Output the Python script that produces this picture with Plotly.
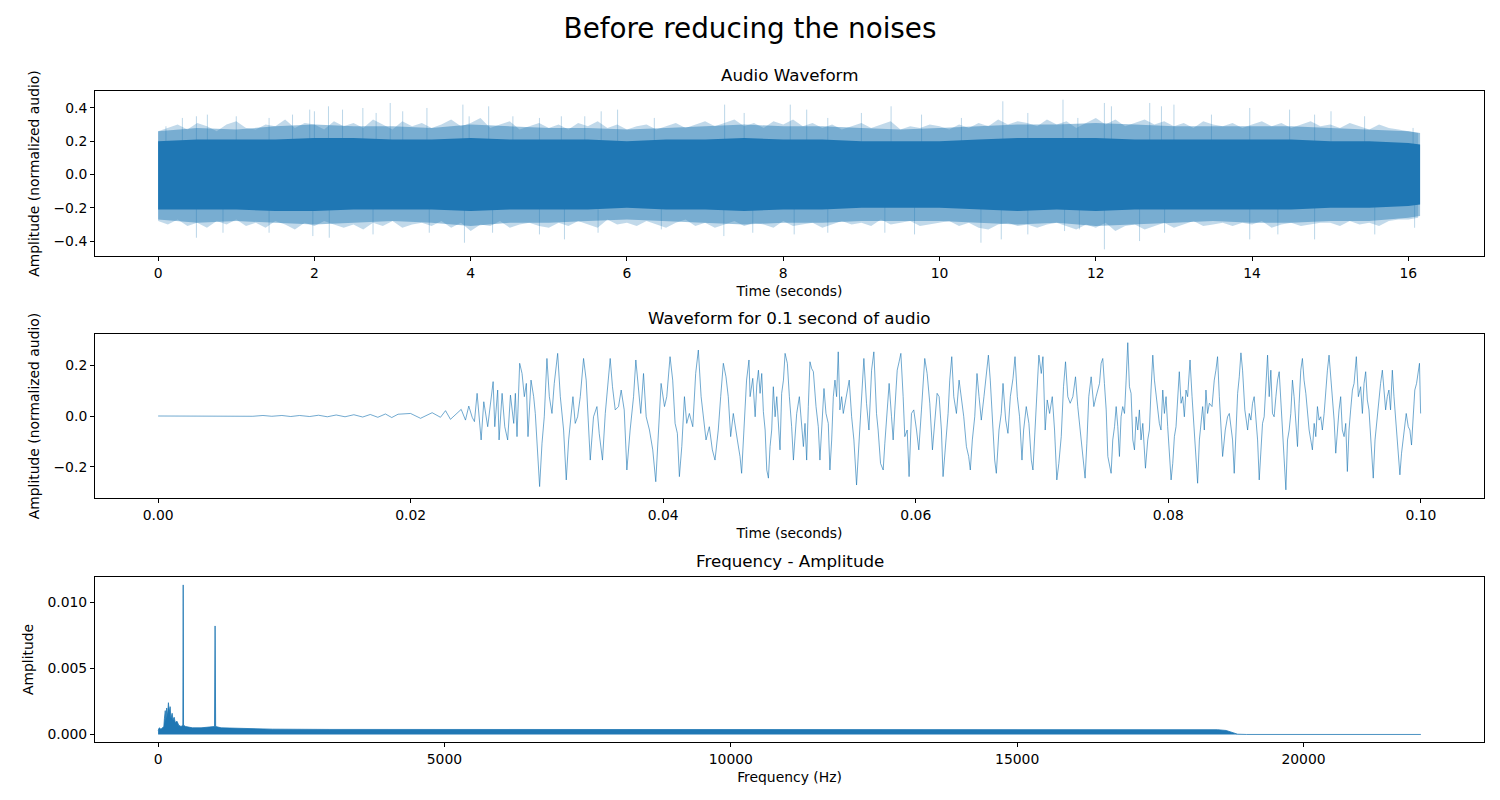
import plotly.graph_objects as go

# ---------------------------------------------------------------- data
# Audio waveform (whole file): envelope every 0.5 s
env_t = [0, 0.5, 1, 1.5, 2, 2.5, 3, 3.5, 4, 4.5, 5, 5.5, 6, 6.5, 7, 7.5, 8, 8.5,
         9, 9.5, 10, 10.5, 11, 11.5, 12, 12.5, 13, 13.5, 14, 14.5, 15, 15.5, 16, 16.15]
halo_top = [0.26, 0.28, 0.27, 0.29, 0.30, 0.29, 0.29, 0.28, 0.30, 0.29,
            0.28, 0.28, 0.27, 0.28, 0.29, 0.30, 0.29, 0.29, 0.28, 0.27,
            0.28, 0.29, 0.30, 0.30, 0.31, 0.30, 0.29, 0.29, 0.29, 0.29,
            0.28, 0.27, 0.26, 0.25]
halo_bot = [-0.27, -0.29, -0.28, -0.29, -0.30, -0.29, -0.28, -0.29, -0.31, -0.29,
            -0.29, -0.28, -0.27, -0.28, -0.29, -0.30, -0.29, -0.29, -0.28, -0.28,
            -0.28, -0.29, -0.30, -0.29, -0.31, -0.30, -0.29, -0.28, -0.29, -0.29,
            -0.28, -0.28, -0.26, -0.25]
core_top = [0.20, 0.21, 0.21, 0.21, 0.22, 0.22, 0.21, 0.21, 0.22, 0.21,
            0.21, 0.21, 0.20, 0.21, 0.21, 0.22, 0.21, 0.21, 0.20, 0.20,
            0.20, 0.21, 0.22, 0.22, 0.22, 0.21, 0.21, 0.21, 0.21, 0.21,
            0.20, 0.20, 0.19, 0.18]
core_bot = [-0.21, -0.21, -0.21, -0.22, -0.22, -0.21, -0.21, -0.21, -0.22, -0.21,
            -0.21, -0.21, -0.20, -0.21, -0.21, -0.22, -0.21, -0.21, -0.20, -0.20,
            -0.20, -0.21, -0.22, -0.21, -0.22, -0.21, -0.21, -0.21, -0.21, -0.21,
            -0.20, -0.20, -0.19, -0.18]

# ragged outer edge of the band, every 0.125 s
fringe_step = 0.125
fringe_top = [0.26, 0.28, 0.30, 0.27, 0.31, 0.29, 0.26, 0.30, 0.32, 0.28,
              0.27, 0.30, 0.29, 0.33, 0.28, 0.31, 0.30, 0.27, 0.32, 0.29,
              0.31, 0.28, 0.33, 0.30, 0.27, 0.32, 0.29, 0.31, 0.28, 0.30,
              0.33, 0.29, 0.31, 0.34, 0.28, 0.30, 0.32, 0.27, 0.29, 0.31,
              0.28, 0.30, 0.27, 0.31, 0.29, 0.32, 0.28, 0.30, 0.27, 0.29,
              0.30, 0.27, 0.29, 0.31, 0.28, 0.30, 0.32, 0.29, 0.31, 0.33,
              0.29, 0.31, 0.28, 0.32, 0.30, 0.33, 0.29, 0.31, 0.28, 0.30,
              0.27, 0.29, 0.31, 0.28, 0.30, 0.32, 0.27, 0.29, 0.28, 0.30,
              0.29, 0.27, 0.30, 0.28, 0.31, 0.29, 0.33, 0.30, 0.32, 0.31,
              0.29, 0.33, 0.30, 0.32, 0.28, 0.31, 0.34, 0.30, 0.33, 0.29,
              0.31, 0.33, 0.30, 0.32, 0.29, 0.31, 0.28, 0.32, 0.30, 0.29,
              0.31, 0.28, 0.30, 0.32, 0.29, 0.31, 0.28, 0.30, 0.32, 0.29,
              0.30, 0.28, 0.31, 0.29, 0.27, 0.30, 0.28, 0.27, 0.26, 0.25]
fringe_bot = [-0.28, -0.30, -0.27, -0.31, -0.29, -0.32, -0.28, -0.30, -0.27, -0.31,
              -0.29, -0.32, -0.28, -0.30, -0.33, -0.29, -0.31, -0.28, -0.30, -0.32,
              -0.30, -0.33, -0.29, -0.31, -0.28, -0.32, -0.30, -0.29, -0.31, -0.28,
              -0.32, -0.29, -0.34, -0.30, -0.31, -0.28, -0.32, -0.30, -0.29, -0.31,
              -0.32, -0.29, -0.31, -0.28, -0.30, -0.32, -0.27, -0.30, -0.29, -0.31,
              -0.28, -0.30, -0.32, -0.29, -0.27, -0.31, -0.29, -0.32, -0.30, -0.28,
              -0.31, -0.29, -0.30, -0.32, -0.28, -0.31, -0.30, -0.29, -0.32, -0.30,
              -0.28, -0.30, -0.29, -0.31, -0.27, -0.30, -0.29, -0.28, -0.31, -0.30,
              -0.29, -0.28, -0.31, -0.29, -0.32, -0.33, -0.30, -0.29, -0.31, -0.30,
              -0.32, -0.30, -0.29, -0.31, -0.33, -0.30, -0.32, -0.29, -0.34, -0.31,
              -0.30, -0.33, -0.31, -0.29, -0.32, -0.30, -0.28, -0.31, -0.30, -0.29,
              -0.31, -0.29, -0.30, -0.28, -0.32, -0.30, -0.29, -0.31, -0.30, -0.29,
              -0.29, -0.31, -0.28, -0.30, -0.29, -0.31, -0.28, -0.27, -0.27, -0.26]

# single peaks sticking out of the band
peak_up_t = [0.1, 0.31, 0.49, 0.63, 1.0, 1.42, 1.72, 1.94, 2.0, 2.18,
             2.36, 2.62, 2.79, 2.97, 3.13, 3.44, 3.9, 3.98, 4.23, 4.54,
             4.88, 5.16, 5.46, 5.67, 5.88, 6.35, 7.25, 7.5, 8.09, 8.3,
             8.57, 9.0, 9.38, 9.77, 10.28, 10.81, 11.13, 11.58, 11.77, 12.11,
             12.2, 12.69, 12.84, 13.0, 13.48, 13.97, 14.48, 14.8, 15.01, 15.44,
             16.06]
peak_up_v = [0.29, 0.34, 0.35, 0.36, 0.35, 0.34, 0.36, 0.39, 0.38, 0.41,
             0.39, 0.40, 0.37, 0.43, 0.38, 0.40, 0.42, 0.35, 0.41, 0.35,
             0.34, 0.35, 0.35, 0.38, 0.39, 0.34, 0.42, 0.37, 0.42, 0.39,
             0.34, 0.37, 0.41, 0.36, 0.34, 0.44, 0.37, 0.45, 0.34, 0.43,
             0.41, 0.43, 0.41, 0.42, 0.36, 0.40, 0.39, 0.36, 0.38, 0.35,
             0.28]
peak_dn_t = [0.49, 0.83, 1.42, 1.98, 2.19, 2.75, 3.47, 3.92, 4.28, 4.88,
             5.2, 5.63, 6.44, 7.24, 7.61, 8.14, 8.57, 9.3, 9.68, 10.53,
             10.79, 11.13, 11.6, 11.79, 12.11, 12.56, 12.88, 13.97, 14.33, 14.8,
             15.57, 16.08]
peak_dn_v = [-0.38, -0.35, -0.35, -0.37, -0.38, -0.36, -0.35, -0.41, -0.35, -0.36,
             -0.39, -0.35, -0.33, -0.37, -0.35, -0.36, -0.35, -0.35, -0.36, -0.41,
             -0.39, -0.36, -0.34, -0.33, -0.45, -0.40, -0.35, -0.39, -0.36, -0.39,
             -0.36, -0.32]

# first 0.1 s of audio (time in ms)
clip_ms_a = [0.0, 6.0, 6.8, 7.5, 8.3, 9.0, 9.8, 10.5, 11.2, 12.0,
             12.7, 13.4, 14.1, 14.8, 15.5, 16.2, 16.8, 17.4, 18.0, 18.5,
             19.0, 19.99, 20.78, 21.70, 22.36, 22.76, 23.15, 23.68, 24.00, 24.34,
             24.60, 24.87, 25.05, 25.26, 25.58, 25.79, 26.10, 26.53, 26.66, 26.89,
             27.00, 27.24, 27.45, 27.68, 27.90, 28.16, 28.29, 28.42, 28.63, 28.82,
             29.00, 29.16, 29.29, 29.53, 29.74, 29.87, 30.06, 30.21, 30.40, 30.58,
             30.79, 30.98, 31.19, 31.37, 31.64, 31.85, 32.11, 32.32, 32.51, 32.69,
             32.85, 33.03, 33.22, 33.43, 33.69, 33.90, 34.09, 34.22, 34.48, 34.75,
             34.93, 35.19, 35.41, 35.59, 35.80, 35.98, 36.20, 36.46, 36.67, 36.91,
             37.12, 37.38, 37.65, 37.83, 38.07, 38.22, 38.44, 38.65, 38.91, 39.17,
             39.41, 39.62, 39.83, 40.10, 40.28, 40.54, 40.75, 40.94, 41.12, 41.28,
             41.47, 41.68, 41.86, 42.07, 42.34, 42.57, 42.78, 43.00, 43.18, 43.39,
             43.65, 43.89, 44.10, 44.36, 44.55, 44.76, 44.97, 45.15, 45.34, 45.55,
             45.87, 46.08, 46.21, 46.39, 46.60, 46.79]
clip_amp_a = [0.000, 0.000, 0.001, -0.001, 0.002, -0.001, 0.002, -0.002, 0.002, -0.002,
              0.003, -0.003, 0.004, -0.003, 0.005, -0.004, 0.006, -0.005, 0.008, -0.006,
              0.007, 0.010, -0.009, 0.013, -0.005, 0.021, -0.013, 0.013, 0.026, -0.016,
              0.039, -0.005, -0.022, 0.089, -0.094, 0.056, -0.042, 0.135, -0.042, 0.102,
              -0.094, 0.089, -0.042, -0.094, 0.082, -0.029, 0.089, -0.081, 0.207, 0.167,
              0.076, 0.128, -0.081, 0.141, 0.076, 0.010, -0.159, -0.277, -0.107, -0.003,
              0.226, 0.076, 0.010, 0.128, 0.246, 0.076, -0.055, -0.251, -0.094, 0.010,
              0.076, -0.029, -0.003, 0.076, 0.226, 0.141, -0.055, -0.173, -0.003, 0.037,
              -0.068, -0.173, 0.010, 0.115, 0.226, 0.115, 0.024, 0.037, 0.102, 0.024,
              -0.212, -0.055, 0.076, 0.220, 0.076, 0.010, 0.167, -0.003, -0.055, -0.133,
              -0.258, -0.055, 0.128, 0.037, 0.076, 0.233, 0.141, -0.029, -0.068, -0.238,
              -0.120, 0.076, -0.029, 0.010, -0.042, 0.167, 0.259, 0.076, -0.016, -0.094,
              -0.042, -0.133, -0.173, -0.055, 0.076, 0.207, 0.154, 0.076, -0.081, 0.010,
              -0.094, -0.159, -0.225, -0.055, 0.141, 0.220]
clip_ms_b = [46.88, 47.09, 47.28, 47.41, 47.54, 47.67, 47.80, 47.93, 48.07, 48.20,
             48.33, 48.46, 48.59, 48.72, 48.86, 48.99, 49.12, 49.25, 49.38, 49.52,
             49.65, 49.83, 49.99, 50.17, 50.31, 50.44, 50.57, 50.78, 50.96, 51.10,
             51.23, 51.36, 51.49, 51.62, 51.75, 51.89, 52.10, 52.28, 52.41, 52.60,
             52.73, 52.89, 53.07, 53.20, 53.34, 53.47, 53.60, 53.73, 53.86, 53.99,
             54.13, 54.26, 54.52, 54.73, 54.92, 55.10, 55.31, 55.52, 55.71, 55.89,
             56.10, 56.29, 56.50, 56.68, 56.89, 57.02, 57.21, 57.42, 57.55, 57.74,
             57.89, 58.08, 58.21, 58.34, 58.53, 58.68, 58.82, 59.00, 59.13, 59.32,
             59.47, 59.66, 59.84, 60.06, 60.24, 60.45, 60.58, 60.71, 60.90, 61.11,
             61.32, 61.50, 61.69, 61.85, 62.03, 62.16, 62.37, 62.56, 62.69, 62.85,
             63.01, 63.22, 63.43, 63.61, 63.80, 64.01, 64.19, 64.32, 64.48, 64.67,
             64.85, 65.01, 65.19, 65.40, 65.59, 65.75, 65.90, 66.06, 66.25, 66.38,
             66.59, 66.77, 66.91, 67.12, 67.30, 67.49, 67.70, 67.86, 68.04, 68.22,
             68.41, 68.54, 68.75, 68.96, 69.15, 69.28, 69.41, 69.59, 69.75, 69.94,
             70.07, 70.25, 70.41, 70.60, 70.81, 70.99, 71.17, 71.33, 71.52, 71.70,
             71.86, 72.04, 72.23, 72.44, 72.65, 72.83, 73.05, 73.23, 73.41, 73.55,
             73.70, 73.89, 74.10, 74.28, 74.49]
clip_amp_b = [0.076, 0.148, -0.003, 0.122, 0.180, 0.089, 0.167, 0.017, -0.055, -0.212,
              -0.244, -0.120, -0.055, 0.115, -0.003, 0.076, -0.042, -0.133, 0.089, 0.141,
              0.246, 0.207, 0.076, -0.042, -0.173, -0.055, 0.010, 0.076, -0.055, -0.120,
              -0.029, -0.173, 0.037, 0.213, 0.187, 0.174, 0.037, -0.042, -0.173, -0.029,
              0.108, 0.010, -0.029, -0.212, -0.094, 0.076, 0.141, 0.076, 0.252, 0.024,
              0.076, 0.010, 0.076, 0.141, -0.003, -0.094, -0.271, -0.107, 0.050, 0.226,
              0.050, -0.055, 0.180, 0.252, 0.010, -0.055, -0.186, -0.212, -0.107, 0.010,
              0.128, -0.003, -0.094, 0.024, 0.180, 0.213, 0.246, 0.076, -0.081, -0.055,
              -0.238, 0.010, 0.024, -0.055, -0.133, 0.024, 0.128, 0.226, 0.167, 0.050,
              -0.133, -0.029, 0.089, 0.076, -0.055, -0.238, -0.094, 0.010, 0.141, 0.233,
              0.076, 0.010, 0.141, 0.076, -0.003, -0.120, -0.159, -0.212, -0.094, -0.003,
              0.167, 0.076, -0.016, 0.076, 0.167, 0.239, 0.141, -0.003, -0.173, -0.225,
              -0.055, 0.010, 0.128, -0.016, -0.068, 0.076, 0.148, 0.233, 0.076, -0.003,
              -0.173, -0.055, 0.037, -0.029, -0.173, -0.212, -0.094, 0.076, 0.239, 0.167,
              0.233, -0.055, 0.063, 0.010, 0.076, -0.055, -0.251, -0.186, -0.081, 0.115,
              0.213, 0.076, 0.050, 0.076, 0.154, 0.037, -0.068, -0.159, -0.244, -0.107,
              0.076, 0.154, 0.037, 0.076, 0.128]
clip_ms_c = [74.55, 74.68, 74.81, 74.94, 75.08, 75.21, 75.34, 75.47, 75.60, 75.74,
             75.87, 76.00, 76.13, 76.26, 76.39, 76.53, 76.66, 76.79, 76.92, 77.05,
             77.19, 77.32, 77.45, 77.58, 77.71, 77.84, 77.98, 78.19, 78.37, 78.50,
             78.63, 78.77, 78.90, 79.03, 79.16, 79.29, 79.42, 79.56, 79.69, 79.82,
             79.95, 80.08, 80.22, 80.35, 80.48, 80.61, 80.74, 80.87, 81.01, 81.14,
             81.27, 81.40, 81.53, 81.72, 81.88, 82.06, 82.19, 82.32, 82.46, 82.59,
             82.72, 82.85, 82.98, 83.11, 83.25, 83.46, 83.64, 83.77, 83.90, 84.04,
             84.17, 84.30, 84.51, 84.69, 84.83, 84.96, 85.09, 85.22, 85.35, 85.49,
             85.62, 85.75, 85.88, 86.06, 86.28, 86.41, 86.54, 86.67, 86.80, 86.93,
             87.07, 87.20, 87.33, 87.46, 87.59, 87.73, 87.86, 87.99, 88.12, 88.25,
             88.38, 88.52, 88.65, 88.78, 88.91, 89.04, 89.17, 89.31, 89.44, 89.57,
             89.70, 89.83, 89.96, 90.10, 90.23, 90.36, 90.49, 90.62, 90.75, 90.89,
             91.02, 91.15, 91.28, 91.41, 91.55, 91.68, 91.81, 91.94, 92.07, 92.20,
             92.34, 92.47, 92.60, 92.73, 92.86, 92.99, 93.13, 93.26, 93.39, 93.52,
             93.65, 93.78, 93.92, 94.05, 94.18, 94.31, 94.44, 94.58, 94.71, 94.89,
             95.05, 95.23, 95.37, 95.50, 95.63, 95.76, 95.89, 96.02, 96.16, 96.23,
             96.37, 96.50, 96.68, 96.81, 96.95, 97.08, 97.21, 97.34, 97.47, 97.60,
             97.74, 97.87, 98.00, 98.13, 98.26, 98.34, 98.47, 98.61, 98.74, 98.84,
             99.00, 99.13, 99.26, 99.39, 99.52, 99.66, 99.79, 99.89, 99.98]
clip_amp_c = [0.128, 0.207, 0.226, 0.128, 0.024, -0.159, -0.186, -0.225, -0.094, -0.042,
              0.037, -0.042, -0.159, -0.003, 0.037, 0.010, 0.141, 0.288, 0.115, 0.089,
              -0.094, -0.133, -0.003, -0.055, 0.024, -0.094, -0.029, -0.205, -0.094, -0.055,
              0.102, 0.239, 0.141, 0.076, 0.024, -0.029, -0.055, 0.102, 0.010, 0.076,
              -0.042, -0.159, -0.251, -0.186, -0.081, -0.042, 0.076, 0.174, 0.050, 0.076,
              -0.003, 0.102, 0.076, 0.220, 0.076, -0.081, -0.186, -0.264, -0.094, -0.029,
              0.037, -0.055, 0.102, 0.010, 0.050, 0.037, 0.141, 0.180, 0.233, 0.076,
              -0.055, -0.159, -0.055, -0.003, 0.010, -0.055, -0.094, -0.225, -0.094, 0.089,
              0.154, 0.248, 0.180, 0.024, -0.055, 0.010, -0.016, 0.050, 0.076, -0.003,
              -0.094, -0.251, -0.146, -0.029, -0.003, 0.154, 0.239, 0.076, 0.180, 0.010,
              -0.003, 0.076, 0.141, 0.174, 0.050, -0.055, -0.159, -0.290, -0.094, -0.055,
              0.010, 0.141, 0.076, -0.029, -0.120, 0.050, 0.180, 0.226, 0.141, 0.089,
              0.010, -0.055, -0.094, -0.133, -0.029, -0.081, 0.037, -0.016, -0.003, -0.055,
              0.010, 0.102, 0.180, 0.239, 0.154, 0.076, -0.016, -0.146, -0.055, 0.024,
              0.076, -0.055, -0.081, -0.029, -0.218, -0.055, 0.024, 0.102, 0.128, 0.233,
              0.076, 0.115, 0.010, 0.128, 0.174, 0.063, 0.024, -0.094, -0.186, -0.244,
              -0.094, -0.029, 0.076, 0.128, 0.180, 0.089, 0.024, 0.076, 0.102, 0.024,
              0.180, 0.076, -0.003, -0.081, -0.159, -0.231, -0.146, -0.081, -0.042, 0.010,
              -0.042, -0.055, -0.114, 0.010, 0.102, 0.128, 0.180, 0.207, 0.010]

# spectrum (upper edge of the band)
spec_hz = [0, 20, 50, 80, 100, 110, 125, 135, 150, 165,
           180, 195, 210, 225, 245, 260, 280, 300, 330, 360,
           400, 432, 438, 444, 480, 600, 750, 900, 985, 995,
           1005, 1100, 1500, 2000, 3000, 6000, 10000, 14000, 17000, 18500,
           18650, 18750, 18850, 19000, 22050]
spec_amp = [0.0003, 0.0005, 0.0004, 0.0005, 0.0006, 0.0012, 0.0018, 0.0010, 0.0020, 0.0014,
            0.0024, 0.0017, 0.0021, 0.0012, 0.0016, 0.0011, 0.0013, 0.0009, 0.0010, 0.0007,
            0.0006, 0.0007, 0.0113, 0.0007, 0.0006, 0.0005, 0.0005, 0.0006, 0.0006, 0.0082,
            0.0006, 0.0005, 0.00045, 0.0004, 0.00038, 0.00038, 0.00039, 0.00038, 0.00038, 0.00036,
            0.0003, 0.00015, 0.00002, 0.0, 0.0]

# ---------------------------------------------------------------- style
c_blue = '#1f77b4'
font_main = 'DejaVu Sans'
fs_tick = 13.9

fig = go.Figure()

# top panel: whole waveform
fringe_t = [i * fringe_step for i in range(len(fringe_top))]
fig.add_trace(go.Scatter(x=env_t + env_t[::-1], y=halo_top + halo_bot[::-1],
                         fill='toself', fillcolor='rgba(31,119,180,0.45)',
                         line=dict(width=0), mode='lines', hoverinfo='skip',
                         xaxis='x', yaxis='y'))
fig.add_trace(go.Scatter(x=fringe_t + fringe_t[::-1], y=fringe_top + fringe_bot[::-1],
                         fill='toself', fillcolor='rgba(31,119,180,0.28)',
                         line=dict(width=0), mode='lines', hoverinfo='skip',
                         xaxis='x', yaxis='y'))
px, py = [], []
for t, v in zip(peak_up_t + peak_dn_t, peak_up_v + peak_dn_v):
    px += [t, t, None]
    py += [0, v, None]
fig.add_trace(go.Scatter(x=px, y=py, mode='lines',
                         line=dict(color='rgba(31,119,180,0.3)', width=1),
                         xaxis='x', yaxis='y'))
fig.add_trace(go.Scatter(x=env_t + env_t[::-1], y=core_top + core_bot[::-1],
                         fill='toself', fillcolor=c_blue,
                         line=dict(width=0), mode='lines',
                         xaxis='x', yaxis='y'))

# middle panel: 0.1 s
clip_ms = clip_ms_a + clip_ms_b + clip_ms_c
clip_s = [m / 1000 for m in clip_ms]
clip_amp = clip_amp_a + clip_amp_b + clip_amp_c
fig.add_trace(go.Scatter(x=clip_s, y=clip_amp, mode='lines',
                         line=dict(color='rgba(31,119,180,0.7)', width=0.9),
                         xaxis='x2', yaxis='y2'))

# bottom panel: spectrum
fig.add_trace(go.Scatter(x=spec_hz, y=spec_amp, mode='lines', fill='tozeroy',
                         fillcolor=c_blue, line=dict(color=c_blue, width=0.8),
                         xaxis='x3', yaxis='y3'))

axis_common = dict(showline=True, mirror=True, linecolor='black', linewidth=1,
                   ticks='outside', ticklen=4, tickcolor='black', showgrid=False,
                   zeroline=False, tickfont=dict(family=font_main, size=fs_tick, color='black'))

# the page body adds 8 px around the plot, so the figure is 1484 x 784
fig.update_layout(
    width=1484, height=784,
    paper_bgcolor='white', plot_bgcolor='white',
    showlegend=False,
    margin=dict(l=87, r=8, t=83, b=50),
    font=dict(family=font_main, color='black'),
    title=dict(text='Before reducing the noises', x=0.5, xanchor='center',
               y=1 - 20 / 784, yanchor='middle', yref='container',
               font=dict(family=font_main, size=27.8, color='black')),
    xaxis=dict(domain=[0, 1], anchor='y', range=[-0.808, 16.968], tickvals=list(range(0, 17, 2)),
               title=dict(text='Time (seconds)', standoff=6, font=dict(size=fs_tick)), **axis_common),
    yaxis=dict(domain=[0.7465, 1], anchor='x', range=[-0.49, 0.502], tickvals=[-0.4, -0.2, 0.0, 0.2, 0.4],
               tickformat='.1f', title=dict(text='Amplitude (normalized audio)', standoff=10,
                                            font=dict(size=fs_tick)), **axis_common),
    xaxis2=dict(domain=[0, 1], anchor='y2', range=[-0.005, 0.105],
                tickvals=[0.0, 0.02, 0.04, 0.06, 0.08, 0.10], tickformat='.2f',
                title=dict(text='Time (seconds)', standoff=6, font=dict(size=fs_tick)), **axis_common),
    yaxis2=dict(domain=[0.3748, 0.6267], anchor='x2', range=[-0.322, 0.322], tickvals=[-0.2, 0.0, 0.2],
                tickformat='.1f', title=dict(text='Amplitude (normalized audio)', standoff=10,
                                             font=dict(size=fs_tick)), **axis_common),
    xaxis3=dict(domain=[0, 1], anchor='y3', range=[-1102, 23152],
                tickvals=[0, 5000, 10000, 15000, 20000], tickformat='d',
                title=dict(text='Frequency (Hz)', standoff=6, font=dict(size=fs_tick)), **axis_common),
    yaxis3=dict(domain=[0, 0.2535], anchor='x3', range=[-0.00057, 0.0119],
                tickvals=[0.0, 0.005, 0.010], tickformat='.3f',
                title=dict(text='Amplitude', standoff=10, font=dict(size=fs_tick)), **axis_common),
)

sub_titles = [('Audio Waveform', 1.0), ('Waveform for 0.1 second of audio', 0.6267),
              ('Frequency - Amplitude', 0.2535)]
for txt, ytop in sub_titles:
    fig.add_annotation(text=txt, xref='paper', yref='paper', x=0.5, y=ytop,
                       xanchor='center', yanchor='bottom', yshift=4, showarrow=False,
                       font=dict(family=font_main, size=16.7, color='black'))

fig.write_html('out.html')
